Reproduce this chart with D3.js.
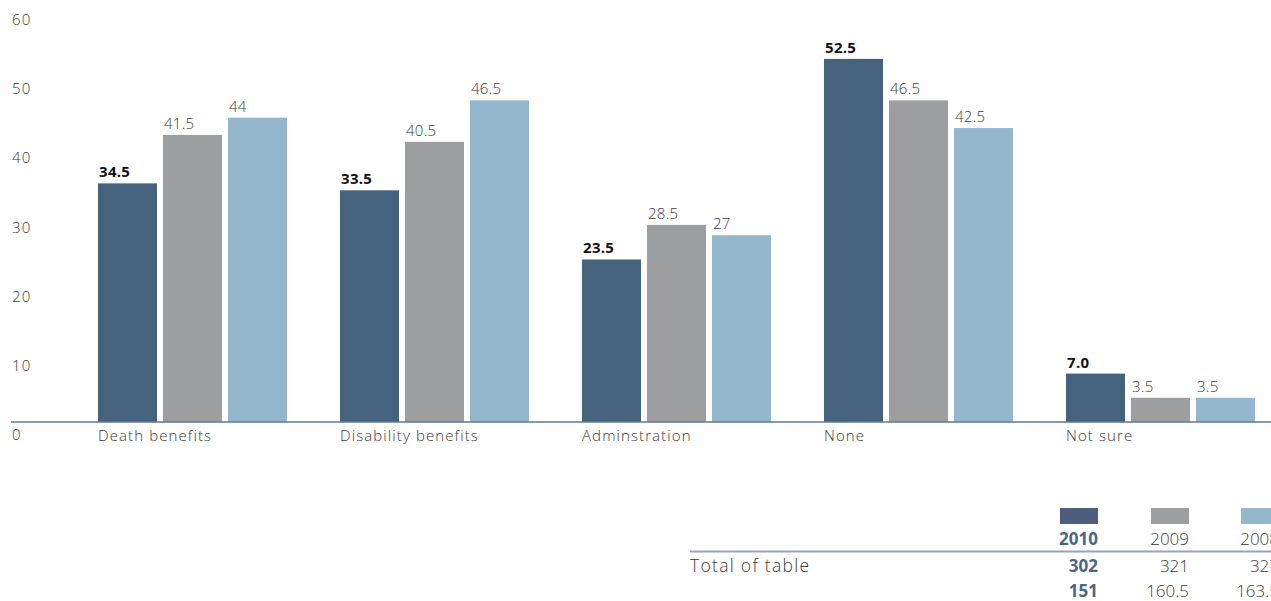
<!DOCTYPE html>
<html>
<head>
<meta charset="utf-8">
<script src="https://cdn.jsdelivr.net/npm/d3@7"></script>
<style>
  html, body { margin: 0; padding: 0; background: #fff; }
  svg { display: block; font-family: "Open Sans", "Noto Sans", sans-serif; }
</style>
</head>
<body>
<svg id="chart" width="1271" height="601"></svg>
<script>
// Survey responses by category, three years
const categories = ["Death benefits", "Disability benefits", "Adminstration", "None", "Not sure"];
const years = ["2010", "2009", "2008"];
const values2010 = [34.5, 33.5, 23.5, 52.5, 7.0];
const values2009 = [41.5, 40.5, 28.5, 46.5, 3.5];
const values2008 = [44, 46.5, 27, 42.5, 3.5];
const labels2010 = ["34.5", "33.5", "23.5", "52.5", "7.0"];
const yTicks = [0, 10, 20, 30, 40, 50, 60];
const totalsRow1 = ["302", "321", "327"];
const totalsRow2 = ["151", "160.5", "163.5"];
const rowLabel = "Total of table";

const seriesValues = { "2010": values2010, "2009": values2009, "2008": values2008 };
const barColors = { "2010": "#46637d", "2009": "#9d9ea0", "2008": "#95b7ce" };
const swatchColors = { "2010": "#4b5e7d", "2009": "#9d9ea0", "2008": "#95b7ce" };

const svg = d3.select("#chart");

const baseY = 422;
const y = d3.scaleLinear().domain([0, 60]).range([baseY, 7]);

const x0 = d3.scaleBand()
  .domain(categories)
  .range([98, 1255])
  .paddingInner(53 / 242)
  .paddingOuter(0)
  .align(0);

const x1 = d3.scaleBand()
  .domain(years)
  .range([0, x0.bandwidth()])
  .paddingInner(6 / 65)
  .paddingOuter(0);

// Y tick labels (sit just below their value level)
svg.append("g").selectAll("text")
  .data(yTicks)
  .join("text")
  .attr("x", 12)
  .attr("y", d => y(d) + 14)
  .attr("dominant-baseline", "middle")
  .attr("font-size", 15)
  .attr("font-weight", 300)
  .attr("letter-spacing", 1.2)
  .attr("fill", "#3a3a3a")
  .text(d => d);

// Bars
const groups = svg.append("g").selectAll("g")
  .data(categories)
  .join("g")
  .attr("transform", d => `translate(${x0(d)},0)`);

groups.selectAll("rect")
  .data((c, i) => years.map(yr => ({ yr, v: seriesValues[yr][i], i })))
  .join("rect")
  .attr("x", d => x1(d.yr))
  .attr("y", d => y(d.v))
  .attr("width", x1.bandwidth())
  .attr("height", d => baseY - y(d.v))
  .attr("fill", d => barColors[d.yr]);

// Value labels
groups.selectAll("text.val")
  .data((c, i) => years.map(yr => ({ yr, v: seriesValues[yr][i], i })))
  .join("text")
  .attr("class", "val")
  .attr("x", d => x1(d.yr) + 1)
  .attr("y", d => y(d.v) - 6)
  .attr("font-size", 15)
  .attr("font-weight", d => d.yr === "2010" ? 700 : 300)
  .attr("letter-spacing", 0.3)
  .attr("fill", d => d.yr === "2010" ? "#111" : "#3a3a3a")
  .text(d => d.yr === "2010" ? labels2010[d.i] : String(d.v));

// Baseline axis
svg.append("line")
  .attr("x1", 11).attr("x2", 1271)
  .attr("y1", baseY).attr("y2", baseY)
  .attr("stroke", "#5b7a98")
  .attr("stroke-width", 1.5);

// Category labels
svg.append("g").selectAll("text")
  .data(categories)
  .join("text")
  .attr("x", d => x0(d))
  .attr("y", 437)
  .attr("dominant-baseline", "middle")
  .attr("font-size", 15)
  .attr("font-weight", 300)
  .attr("letter-spacing", 1.1)
  .attr("fill", "#3a3a3a")
  .text(d => d);

// Legend table
const colRight = { "2010": 1098, "2009": 1189, "2008": 1279 };
const legend = svg.append("g");

legend.selectAll("rect")
  .data(years)
  .join("rect")
  .attr("x", d => colRight[d] - 38)
  .attr("y", 508)
  .attr("width", 38)
  .attr("height", 16)
  .attr("fill", d => swatchColors[d]);

const blueText = "#4a6785";

legend.selectAll("text.hdr")
  .data(years)
  .join("text")
  .attr("class", "hdr")
  .attr("x", d => colRight[d])
  .attr("y", 540)
  .attr("dominant-baseline", "middle")
  .attr("text-anchor", "end")
  .attr("font-size", 17)
  .attr("font-weight", d => d === "2010" ? 700 : 300)
  .attr("fill", d => d === "2010" ? blueText : "#3a3a3a")
  .text(d => d);

legend.append("line")
  .attr("x1", 690).attr("x2", 1271)
  .attr("y1", 551.5).attr("y2", 551.5)
  .attr("stroke", "#8fa6bd")
  .attr("stroke-width", 2);

legend.append("text")
  .attr("x", 690)
  .attr("y", 567)
  .attr("dominant-baseline", "middle")
  .attr("font-size", 17.5)
  .attr("font-weight", 300)
  .attr("letter-spacing", 1.3)
  .attr("fill", "#3a3a3a")
  .text(rowLabel);

[[totalsRow1, 567], [totalsRow2, 592]].forEach(([row, yy]) => {
  legend.append("g").selectAll("text")
    .data(years)
    .join("text")
    .attr("x", d => colRight[d])
    .attr("y", yy)
    .attr("dominant-baseline", "middle")
    .attr("text-anchor", "end")
    .attr("font-size", 17)
    .attr("font-weight", d => d === "2010" ? 700 : 300)
    .attr("fill", d => d === "2010" ? blueText : "#3a3a3a")
    .text((d, i) => row[i]);
});
</script>
</body>
</html>
